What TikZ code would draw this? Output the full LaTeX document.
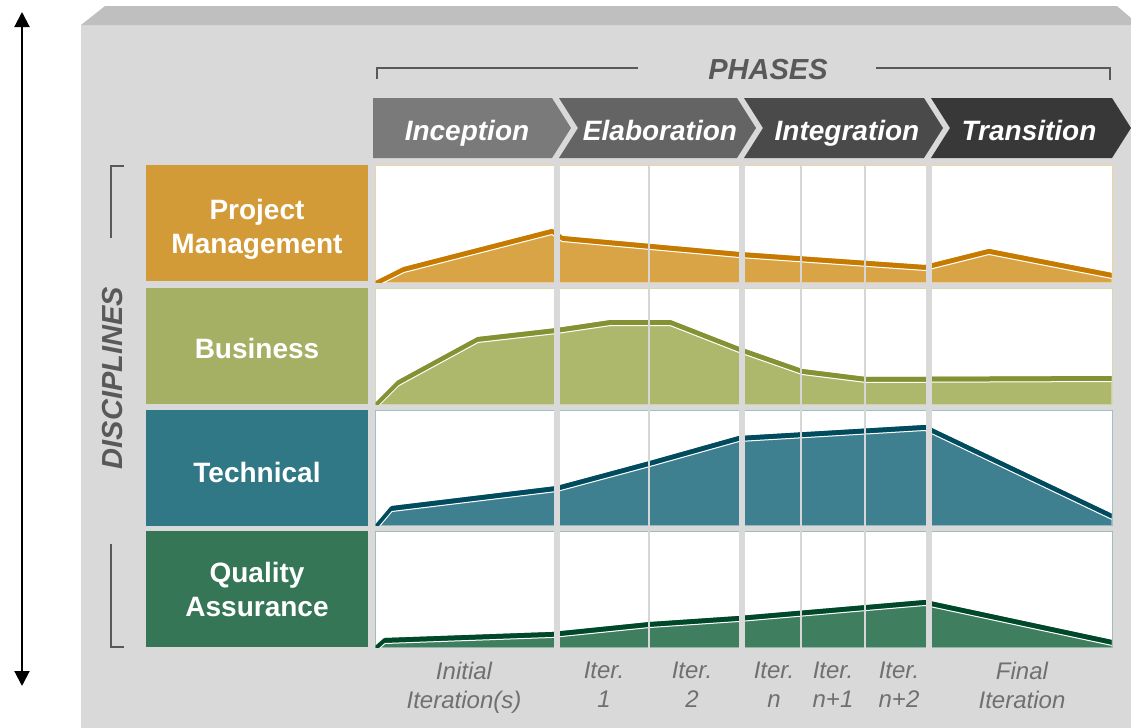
\documentclass[tikz,border=0pt]{standalone}
\usepackage{fontspec}
\setmainfont{Liberation Sans}
\usepackage{tikz}
\usetikzlibrary{arrows.meta}

\definecolor{panel}{HTML}{D9D9D9}
\definecolor{bevel}{HTML}{BFBFBF}
\definecolor{headgray}{HTML}{595959}
\definecolor{itergray}{HTML}{707070}
\definecolor{sepgray}{HTML}{D6D6D6}
\definecolor{chA}{HTML}{7A7A7A}
\definecolor{chB}{HTML}{646464}
\definecolor{chC}{HTML}{4A4A4A}
\definecolor{chD}{HTML}{383838}
\definecolor{pmbox}{HTML}{D39B38}
\definecolor{pmfill}{HTML}{D9A445}
\definecolor{pmline}{HTML}{C77A00}
\definecolor{pmedge}{HTML}{EFD3A2}
\definecolor{busbox}{HTML}{A5B064}
\definecolor{busfill}{HTML}{AEB86C}
\definecolor{busline}{HTML}{849233}
\definecolor{busedge}{HTML}{D3D9B0}
\definecolor{techbox}{HTML}{317886}
\definecolor{techfill}{HTML}{3F8090}
\definecolor{techline}{HTML}{004B5D}
\definecolor{techedge}{HTML}{9FC0C7}
\definecolor{qabox}{HTML}{357656}
\definecolor{qafill}{HTML}{3F7E5E}
\definecolor{qaline}{HTML}{00482A}
\definecolor{qaedge}{HTML}{A0BFAE}

\begin{document}
\begin{tikzpicture}[x=0.5pt,y=-0.5pt,
        discbox/.style={rectangle, inner sep=0pt, minimum width=111pt, minimum height=58pt},
        disctext/.style={text=white, align=center, font=\fontsize{14}{17}\selectfont\bfseries},
        phasetext/.style={anchor=base, text=white, font=\fontsize{14}{16}\selectfont\bfseries\itshape},
        headtext/.style={text=headgray, font=\fontsize{14.5}{16}\selectfont\bfseries\itshape},
        itertext/.style={anchor=north, text=itergray, align=center, font=\fontsize{12}{14.5}\selectfont\itshape},
        bracket/.style={draw=headgray, line width=0.8pt},
        band/.style={line width=2.5pt, yshift=-1.25pt, line join=round},
        glint/.style={white, line width=0.5pt, yshift=-2.75pt, line join=round},
        thinsep/.style={sepgray, line width=1pt}]
        \useasboundingbox (0,0) rectangle (1131,728);

        % grey panel
        \fill[panel] (81,25) rectangle (1131,728);
        \fill[bevel] (81,25) -- (105,6) -- (1117,6) -- (1131,18) -- (1131,25) -- cycle;

        % time arrow
        \coordinate (atop) at (22,12);
        \coordinate (abot) at (22,686);
        \draw[{Triangle[length=7.5pt,width=7.5pt]}-{Triangle[length=7.5pt,width=7.5pt]}, line width=1pt] (atop) -- (abot);

        % phases
        \node[headtext] (phases) at (768,70) {PHASES};
        \draw[bracket] (377,79) -- (377,68) -- (638,68);
        \draw[bracket] (876,68) -- (1110,68) -- (1110,80);

        \fill[chA] (373,98) -- (552,98) -- (571,128) -- (552,158) -- (373,158) -- cycle;
        \fill[chB] (559,98) -- (737,98) -- (756,128) -- (737,158) -- (559,158) -- (578,128) -- cycle;
        \fill[chC] (744,98) -- (924,98) -- (943,128) -- (924,158) -- (744,158) -- (763,128) -- cycle;
        \fill[chD] (931,98) -- (1112,98) -- (1131,128) -- (1112,158) -- (931,158) -- (950,128) -- cycle;
        \node[phasetext] (incep) at (467,140) {Inception};
        \node[phasetext] (elab) at (660,140) {Elaboration};
        \node[phasetext] (integ) at (847,140) {Integration};
        \node[phasetext] (trans) at (1029,140) {Transition};

        % project management row
        \def\pmcurve{(376,281) -- (404,267) -- (552,229) -- (562,236) -- (739,252) -- (925,265) -- (989,249) -- (1112,273)}
        \draw[pmedge, fill=white] (375,165) rectangle (1112,282);
        \begin{scope}
            \clip (375.5,165.5) rectangle (1111.5,282);
            \fill[pmfill] \pmcurve -- (1112,282) -- (375,282) -- cycle;
            \draw[band, pmline] \pmcurve;
            \draw[glint] \pmcurve;
        \end{scope}

        % business row
        \def\buscurve{(376,403) -- (399,380) -- (478,337) -- (557,328) -- (611,320) -- (670,320) -- (739,347) -- (802,369) -- (866,377) -- (1112,376)}
        \draw[busedge, fill=white] (375,288) rectangle (1112,404);
        \begin{scope}
            \clip (375.5,288.5) rectangle (1111.5,404);
            \fill[busfill] \buscurve -- (1112,404) -- (375,404) -- cycle;
            \draw[band, busline] \buscurve;
            \draw[glint] \buscurve;
        \end{scope}

        % technical row
        \def\techcurve{(376,525) -- (392,506) -- (557,486) -- (650,461) -- (739,436) -- (925,425) -- (1112,514)}
        \draw[techedge, fill=white] (375,410) rectangle (1112,525);
        \begin{scope}
            \clip (375.5,410.5) rectangle (1111.5,525);
            \fill[techfill] \techcurve -- (1112,525) -- (375,525) -- cycle;
            \draw[band, techline] \techcurve;
            \draw[glint] \techcurve;
        \end{scope}

        % quality assurance row
        \def\qacurve{(376,646) -- (385,638) -- (552,632) -- (650,622) -- (739,616) -- (925,600) -- (1112,640)}
        \draw[qaedge, fill=white] (375,531) rectangle (1112,647);
        \begin{scope}
            \clip (375.5,531.5) rectangle (1111.5,647);
            \fill[qafill] \qacurve -- (1112,647) -- (375,647) -- cycle;
            \draw[band, qaline] \qacurve;
            \draw[glint] \qacurve;
        \end{scope}

        % column separators
        \foreach \sx in {557,742,929}
            \draw[panel, line width=3pt] (\sx,161) -- (\sx,649);
        \foreach \sx in {649,801,865}
            \draw[thinsep] (\sx,164) -- (\sx,648);

        % disciplines
        \node[discbox, fill=pmbox] (pm) at (257,223) {};
        \node[discbox, fill=busbox] (bus) at (257,346) {};
        \node[discbox, fill=techbox] (tech) at (257,467.5) {};
        \node[discbox, fill=qabox] (qa) at (257,589) {};
        \node[disctext] (pmtext) at (257,229) {Project\\Management};
        \node[disctext] (bustext) at (257,348) {Business};
        \node[disctext] (techtext) at (257,472) {Technical};
        \node[disctext] (qatext) at (257,589) {Quality\\Assurance};

        \node[headtext, rotate=90] (disc) at (113,378) {DISCIPLINES};
        \draw[bracket] (124,166) -- (111,166) -- (111,238);
        \draw[bracket] (111,544) -- (111,647) -- (124,647);

        % iterations
        \node[itertext] (init) at (464,655) {Initial\\Iteration(s)};
        \node[itertext] (iterA) at (604,655) {Iter.\\1};
        \node[itertext] (iterB) at (692,655) {Iter.\\2};
        \node[itertext] (itern) at (774,655) {Iter.\\n};
        \node[itertext] (iternA) at (833,655) {Iter.\\n+1};
        \node[itertext] (iternB) at (899,655) {Iter.\\n+2};
        \node[itertext] (final) at (1022,655) {Final\\Iteration};

    \end{tikzpicture}
\end{document}
